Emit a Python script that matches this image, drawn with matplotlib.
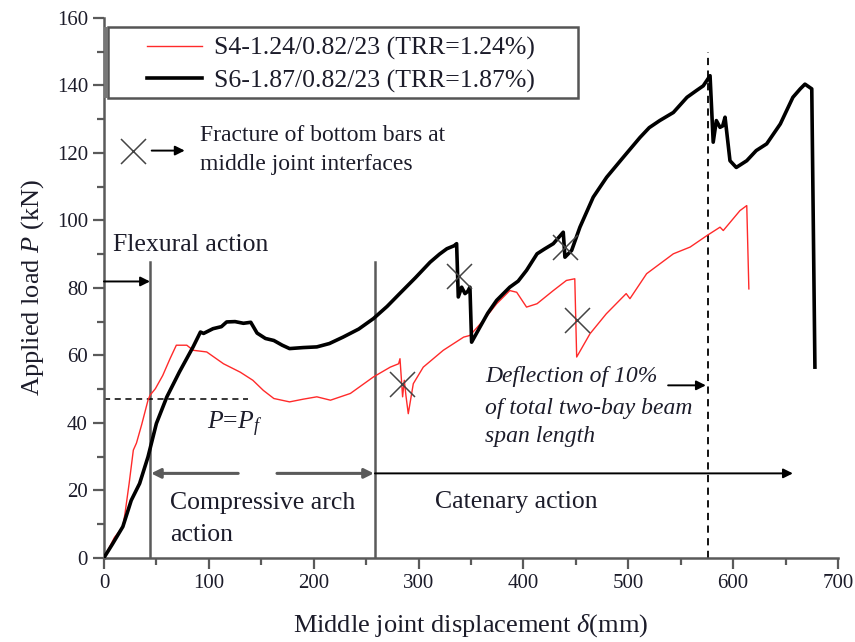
import matplotlib
matplotlib.use("Agg")
import matplotlib.pyplot as plt
from matplotlib.patches import Rectangle
from matplotlib.ticker import MultipleLocator

plt.rcParams["font.family"] = ["Liberation Serif", "DejaVu Serif"]
plt.rcParams["mathtext.fontset"] = "custom"
plt.rcParams["mathtext.it"] = "Liberation Serif:italic"
plt.rcParams["mathtext.rm"] = "Liberation Serif"

# S4-1.24/0.82/23 (red)
s4_x = [0, 5, 10, 18, 20, 24, 28, 31, 36, 42, 44, 49, 56, 63, 69, 79, 85, 98, 114, 130,
        142, 152, 162, 177, 190, 203, 216, 235, 257, 273, 281, 282.3, 284.8, 286.4,
        288, 290.2, 295, 304.5, 323.6, 343, 349, 362, 374.5, 387, 393.6, 403, 413,
        428.5, 441, 449, 450.8, 463.5, 479, 498, 501.6, 517.5, 543, 559, 575, 587.5,
        590.6, 606.5, 613, 615]
s4_y = [0, 3, 6, 9.2, 13, 22, 31.9, 34, 39.5, 46.7, 48.2, 50.1, 54, 59, 63, 63, 61.5, 61,
        57.5, 55, 52.6, 49.6, 47.2, 46.2, 47, 47.7, 46.7, 48.7, 53.6, 56.5, 57.5, 59,
        47.7, 52.6, 48, 42.7, 51.6, 56.5, 61.5, 65.4, 65.9, 70.4, 75.3, 79.2, 78.7,
        74.3, 75.3, 79.2, 82.2, 82.7, 59.5, 66.4, 72.3, 78.3, 76.8, 84.2, 90.1, 92.1,
        95.5, 98, 97, 102.9, 104.4, 79.7]

# S6-1.87/0.82/23 (black)
s6_x = [0, 8, 18, 26, 34, 42, 50, 60, 72, 85, 92, 95, 104, 112, 117, 125, 133, 140, 146,
        154, 162, 170, 177, 190, 203, 215, 228, 243, 257, 270, 282, 297, 311, 320, 327,
        334, 336.3, 337.9, 341.1, 344.3, 347, 349, 350.6, 358.6, 366, 374.5, 387, 395,
        403, 413, 420, 428.5, 438, 439.6, 446, 453.9, 466.6, 479.4, 495.2, 511.2, 520,
        530, 543, 556, 565, 571.5, 578, 581, 584, 587.5, 590, 592.3, 597, 603, 613, 622,
        632, 645, 657, 664, 668.5, 675, 678]
s6_y = [0, 4, 9.2, 17, 22, 29.9, 39.8, 47.7, 55.1, 62.5, 66.9, 66.5, 67.9, 68.5, 69.9, 70,
        69.5, 69.8, 66.6, 65, 64.4, 63, 62, 62.3, 62.5, 63.5, 65.4, 67.8, 70.9, 74.5,
        78.3, 83, 87.6, 90, 91.6, 92.5, 93.1, 77.3, 80.2, 78.3, 79, 80.2, 63.9, 68.4,
        72.5, 76.3, 80.2, 82, 85.2, 90.1, 91.5, 93.1, 96.5, 89.1, 91.1, 98, 106.9, 112.8,
        118.7, 124.6, 127.5, 129.6, 132, 136.5, 138.5, 139.9, 142.9, 123.2, 129.6, 127.6,
        128, 130.6, 117.7, 115.7, 117.7, 120.7, 122.7, 128.6, 136.5, 139, 140.4, 139, 56.5]

# fracture points (x marks)
frac_x = [283.9, 338.5, 439.6, 450.8]
frac_y = [51.6, 83.5, 92.1, 70.4]

labels = ["S4-1.24/0.82/23 (TRR=1.24%)", "S6-1.87/0.82/23 (TRR=1.87%)"]

flex_x = 43.9
cat_x = 258.4
defl_x = 576.4
pf_y = 47

txt = "#1c1c2a"
gray = "#5a5a5a"

fig = plt.figure(figsize=(8.55, 6.42), dpi=100)
ax = fig.add_axes([0.1216, 0.1313, 0.8585, 0.8406])

l1, = ax.plot(s4_x, s4_y, color="#ff2a2a", lw=1.0, zorder=3)
l2, = ax.plot(s6_x, s6_y, color="black", lw=2.6, zorder=4)
ax.plot(frac_x, frac_y, ls="none", marker="x", ms=18, mew=1.1, color="#444444", zorder=5)

# region boundaries
ax.plot([flex_x, flex_x], [0, 87.6], color=gray, lw=1.8)
ax.plot([cat_x, cat_x], [0, 87.6], color=gray, lw=1.8)
ax.plot([defl_x, defl_x], [0, 149.8], color="black", lw=1.3, ls=(0, (4, 3)))
ax.plot([0, 137], [pf_y, pf_y], color="black", lw=1.1, ls=(0, (4, 3)))

arr = dict(arrowstyle="-|>", color="black", lw=1.4, mutation_scale=14, shrinkA=0, shrinkB=0)
garr = dict(arrowstyle="-|>", color=gray, lw=2.2, mutation_scale=14, shrinkA=0, shrinkB=0)
ax.annotate("", xy=(flex_x, 81.9), xytext=(0, 81.9), arrowprops=arr)
ax.annotate("", xy=(flex_x + 1, 25), xytext=(128, 25), arrowprops=garr)
ax.annotate("", xy=(cat_x - 1, 25), xytext=(165, 25), arrowprops=garr)
ax.annotate("", xy=(657, 25), xytext=(cat_x, 25), arrowprops=arr)
ax.annotate("", xy=(574, 51.1), xytext=(538, 51.1), arrowprops=arr)
ax.annotate("", xy=(77, 120.7), xytext=(45.5, 120.7), arrowprops=arr)
ax.plot([28], [120.7], marker="x", ms=18, mew=1.1, color="#444444")

fs = 18.5
ax.text(8.9, 92.6, "Flexural action", fontsize=fs, color=txt, va="center")
ax.text(91.5, 125.1, "Fracture of bottom bars at", fontsize=fs - 1.5, color=txt, va="center")
ax.text(91.5, 116.6, "middle joint interfaces", fontsize=fs - 1.5, color=txt, va="center")
ax.text(98, 39.5, r"$P$=$P_f$", fontsize=fs, color=txt, va="center")
ax.text(63, 16.2, "Compressive arch", fontsize=fs, color=txt, va="center")
ax.text(63, 6.7, "action", fontsize=fs, color=txt, va="center")
ax.text(315.7, 16.6, "Catenary action", fontsize=fs, color=txt, va="center")
ax.text(363.3, 53.6, "Deflection of 10%", fontsize=fs - 1.5, style="italic", color=txt, va="center")
ax.text(363.3, 44.2, "of total two-bay beam", fontsize=fs - 1.5, style="italic", color=txt, va="center")
ax.text(363.3, 35.8, "span length", fontsize=fs - 1.5, style="italic", color=txt, va="center")

# legend box drawn separately, entries placed inside it
ax.add_patch(Rectangle((0.0054, 0.8516), 0.6403, 0.1315, transform=ax.transAxes,
                       fill=False, edgecolor="#555555", lw=1.8, zorder=6, clip_on=False))
ax.add_patch(Rectangle((0, 0.8516), 0.0054, 0.1315, transform=ax.transAxes,
                       facecolor="#777777", edgecolor="none", zorder=6, clip_on=False))
leg = ax.legend([l1, l2], labels, loc="upper left", bbox_to_anchor=(0.0586, 0.965),
                fontsize=fs, frameon=False, handlelength=2.15,
                labelspacing=0.35, borderpad=0, handletextpad=0.45, borderaxespad=0)
for t in leg.get_texts():
    t.set_color(txt)

ax.set_xlim(0, 700)
ax.set_ylim(0, 160)
ax.xaxis.set_major_locator(MultipleLocator(100))
ax.xaxis.set_minor_locator(MultipleLocator(50))
ax.yaxis.set_major_locator(MultipleLocator(20))
ax.yaxis.set_minor_locator(MultipleLocator(10))
for s in ["top", "right"]:
    ax.spines[s].set_visible(False)
for s in ["left", "bottom"]:
    ax.spines[s].set_color(gray)
    ax.spines[s].set_linewidth(1.8)
ax.tick_params(which="major", length=8, width=1.6, color=gray, labelsize=15, labelcolor=txt)
ax.tick_params(which="minor", length=5, width=1.6, color=gray)

ax.set_xlabel(r"Middle joint displacement $\delta$(mm)", fontsize=19, color=txt, labelpad=14)
ax.set_ylabel(r"Applied load $P$ (kN)", fontsize=19, color=txt, labelpad=8)

fig.savefig("out.png", dpi=100)
